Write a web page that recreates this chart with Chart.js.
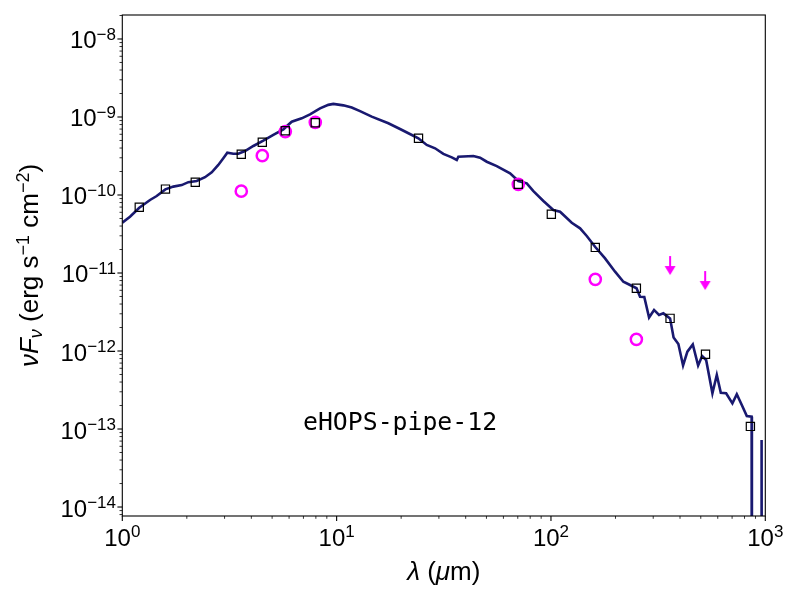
<!DOCTYPE html>
<html>
<head>
<meta charset="utf-8">
<script src="https://cdn.jsdelivr.net/npm/chart.js@4.4.0/dist/chart.umd.min.js"></script>
<style>
html,body{margin:0;padding:0;background:#fff;}
canvas{display:block;}
</style>
</head>
<body>
<canvas id="c" width="800" height="600"></canvas>
<script>
// ---- data (wavelength in micron, nuFnu in erg s^-1 cm^-2) ----
const modelLambda = [1.0,1.086,1.20,1.347,1.447,1.588,1.730,1.893,2.032,2.224,
  2.432,2.614,2.805,2.960,3.090,3.296,3.477,3.738,4.087,4.549,
  5.066,5.641,6.172,6.873,7.513,8.367,9.148,9.652,10.75,11.76,
  12.86,14.58,17.43,19.76,22.80,24.06,26.33,28.79,31.47,34.45,
  36.35,36.98,43.45,46.69,50.17,55.86,64.44,70.45,77.1,82.8,
  92.2,102.6,110.3,125.0,136.7,146.9,160.6,178.8,199.1,217.7,
  233.9,250.8,260.4,272.5,286.9,302.7,319.4,334.5,359.5,373.3,
  393.0,413.4,433.0,458.9,485.9,507.3,529.6,566.6,593.9,620.0,
  656.4,702.3,736.3,776.9,819.9,863.4,866,956,961,966];
const modelFlux = [4.41e-11,5.27e-11,6.87e-11,8.63e-11,9.70e-11,1.18e-10,1.28e-10,1.34e-10,1.46e-10,1.51e-10,
  1.69e-10,1.95e-10,2.43e-10,2.96e-10,3.49e-10,3.38e-10,3.38e-10,3.66e-10,4.25e-10,4.97e-10,
  5.88e-10,6.95e-10,8.71e-10,9.62e-10,1.08e-9,1.29e-9,1.43e-9,1.47e-9,1.41e-9,1.32e-9,
  1.19e-9,1.01e-9,8.30e-10,7.02e-10,5.75e-10,5.33e-10,4.38e-10,3.97e-10,3.36e-10,3.04e-10,
  2.81e-10,3.10e-10,3.16e-10,3.01e-10,2.67e-10,2.35e-10,1.90e-10,1.51e-10,1.41e-10,1.12e-10,
  8.38e-11,6.43e-11,6.11e-11,4.41e-11,3.74e-11,2.98e-11,2.17e-11,1.54e-11,1.04e-11,7.73e-12,
  7.01e-12,6.37e-12,4.97e-12,4.92e-12,2.69e-12,3.36e-12,2.90e-12,3.04e-12,2.62e-12,1.49e-12,
  1.23e-12,6.52e-13,9.80e-13,1.21e-12,6.52e-13,8.63e-13,7.67e-13,2.87e-13,4.92e-13,2.92e-13,
  2.87e-13,2.13e-13,2.79e-13,2.03e-13,1.47e-13,1.44e-13,1e-20,1e-20,7.23e-14,1e-20];

const photLambda = [1.20,1.59,2.19,3.59,4.50,5.76,7.95,24.1,70.4,100.4,161,250.3,359.5,526,852];
const photFlux   = [6.95e-11,1.19e-10,1.46e-10,3.33e-10,4.74e-10,6.67e-10,8.45e-10,5.33e-10,1.37e-10,5.66e-11,2.13e-11,6.37e-12,2.62e-12,9.08e-13,1.08e-13];

const obsLambda = [3.59,4.50,5.76,7.95,70.4,161,250.3];
const obsFlux   = [1.12e-10,3.19e-10,6.5e-10,8.55e-10,1.37e-10,8.3e-12,1.41e-12];

const limLambda = [359.5,524];
const limFlux   = [1.65e-11,1.06e-11];

const xTickExps = [0,1,2,3];
const yTickExps = [-14,-13,-12,-11,-10,-9,-8];
const xMin = 1, xMax = 1000, yMin = 7.67e-15, yMax = 2.03e-8;
const labelText = 'eHOPS-pipe-12';

// ---- helpers ----
const pts = (xs, ys) => xs.map((x, i) => ({x: x, y: ys[i]}));
const SANS = '"Liberation Sans", Arial, sans-serif';

function arrowImage() {
  const c = document.createElement('canvas');
  c.width = 24; c.height = 44;
  const g = c.getContext('2d');
  g.strokeStyle = '#ff00ff'; g.fillStyle = '#ff00ff'; g.lineWidth = 2;
  g.beginPath(); g.moveTo(12, 22); g.lineTo(12, 34); g.stroke();
  g.beginPath(); g.moveTo(6.5, 32); g.lineTo(17.5, 32); g.lineTo(12, 41); g.closePath(); g.fill();
  return c;
}

function drawPow(ctx, exp, x, y, mode) {
  const base = '10';
  const ex = exp < 0 ? '\u2212' + Math.abs(exp) : String(exp);
  const fb = '24px ' + SANS, fe = '17px ' + SANS;
  ctx.font = fb;
  const wb = ctx.measureText(base).width;
  ctx.font = fe;
  const we = ctx.measureText(ex).width;
  let sx, by, ey;
  if (mode === 'y') {
    sx = 116 - (wb + we); by = y + 9.5; ey = y + 1;
  } else {
    sx = x - (wb + we) / 2; by = 545.5; ey = 536.5;
  }
  ctx.textAlign = 'left'; ctx.textBaseline = 'alphabetic';
  ctx.font = fb;
  ctx.fillText(base, sx, by);
  ctx.font = fe;
  ctx.fillText(ex, sx + wb, ey);
}

function drawSegments(ctx, segs, cx, baseY) {
  let total = 0;
  segs.forEach(s => { ctx.font = s.f; s.w = ctx.measureText(s.t).width; total += s.w; });
  let x = cx - total / 2;
  ctx.textAlign = 'left'; ctx.textBaseline = 'alphabetic';
  segs.forEach(s => { ctx.font = s.f; ctx.fillText(s.t, x, baseY + (s.dy || 0)); x += s.w; });
}

const decor = {
  id: 'decor',
  afterDraw(chart) {
    const ctx = chart.ctx, a = chart.chartArea, xs = chart.scales.x, ys = chart.scales.y;
    ctx.save();
    ctx.fillStyle = '#000'; ctx.strokeStyle = '#000';
    ctx.lineWidth = 1.1;
    ctx.strokeRect(a.left, a.top, a.right - a.left, a.bottom - a.top);
    const majL = 4.9, minL = 2.8;
    xTickExps.forEach(e => {
      const v = Math.pow(10, e);
      const px = xs.getPixelForValue(v);
      ctx.lineWidth = 1.1;
      ctx.beginPath(); ctx.moveTo(px, a.bottom); ctx.lineTo(px, a.bottom + majL); ctx.stroke();
      drawPow(ctx, e, px, 0, 'x');
      if (e < xTickExps[xTickExps.length - 1]) {
        ctx.lineWidth = 0.8;
        for (let k = 2; k <= 9; k++) {
          const q = xs.getPixelForValue(k * v);
          ctx.beginPath(); ctx.moveTo(q, a.bottom); ctx.lineTo(q, a.bottom + minL); ctx.stroke();
        }
      }
    });
    const yExpsAll = [yTickExps[0] - 1].concat(yTickExps);
    yExpsAll.forEach(e => {
      const v = Math.pow(10, e);
      if (v >= yMin && v <= yMax) {
        const py = ys.getPixelForValue(v);
        ctx.lineWidth = 1.1;
        ctx.beginPath(); ctx.moveTo(a.left, py); ctx.lineTo(a.left - majL, py); ctx.stroke();
        drawPow(ctx, e, 0, py, 'y');
      }
      ctx.lineWidth = 0.8;
      for (let k = 2; k <= 9; k++) {
        const w = k * v;
        if (w < yMin || w > yMax) continue;
        const q = ys.getPixelForValue(w);
        ctx.beginPath(); ctx.moveTo(a.left, q); ctx.lineTo(a.left - minL, q); ctx.stroke();
      }
    });
    // x title
    drawSegments(ctx, [
      {t: '\u03bb', f: 'italic 26px ' + SANS},
      {t: ' (', f: '26px ' + SANS},
      {t: '\u03bc', f: 'italic 26px ' + SANS},
      {t: 'm)', f: '26px ' + SANS}
    ], (a.left + a.right) / 2, 580);
    // y title
    ctx.save();
    ctx.translate(38, (a.top + a.bottom) / 2);
    ctx.rotate(-Math.PI / 2);
    drawSegments(ctx, [
      {t: '\u03bd', f: 'italic 26px ' + SANS},
      {t: 'F', f: 'italic 26px ' + SANS},
      {t: '\u03bd', f: 'italic 18px ' + SANS, dy: 4},
      {t: ' (erg s', f: '26px ' + SANS},
      {t: '\u22121', f: '18px ' + SANS, dy: -9.5},
      {t: ' cm', f: '26px ' + SANS},
      {t: '\u22122', f: '18px ' + SANS, dy: -9.5},
      {t: ')', f: '26px ' + SANS}
    ], 0, 0);
    ctx.restore();
    // source name
    ctx.font = '24.8px "DejaVu Sans Mono", monospace';
    ctx.textAlign = 'left'; ctx.textBaseline = 'alphabetic';
    ctx.fillText(labelText, 303, 430);
    ctx.restore();
  }
};

new Chart(document.getElementById('c'), {
  type: 'scatter',
  data: {
    datasets: [
      {
        label: 'model', data: pts(modelLambda, modelFlux), showLine: true,
        borderColor: '#191970', borderWidth: 2.6, pointRadius: 0, tension: 0, order: 4
      },
      {
        label: 'observed', data: pts(obsLambda, obsFlux), showLine: false,
        pointStyle: 'circle', pointRadius: 5.6, borderWidth: 2.5,
        borderColor: '#ff00ff', backgroundColor: 'rgba(0,0,0,0)', order: 3
      },
      {
        label: 'model photometry', data: pts(photLambda, photFlux), showLine: false,
        pointStyle: 'rect', pointRadius: 5.8, borderWidth: 1.2,
        borderColor: '#000000', backgroundColor: 'rgba(0,0,0,0)', order: 2
      },
      {
        label: 'upper limits', data: pts(limLambda, limFlux), showLine: false,
        pointStyle: arrowImage(), pointRadius: 5, order: 1
      }
    ]
  },
  options: {
    responsive: false,
    animation: false,
    devicePixelRatio: 1,
    layout: { padding: { left: 122.3, right: 34.7, top: 15, bottom: 84 } },
    plugins: { legend: { display: false }, tooltip: { enabled: false } },
    scales: {
      x: { type: 'logarithmic', min: xMin, max: xMax, display: false },
      y: { type: 'logarithmic', min: yMin, max: yMax, display: false }
    }
  },
  plugins: [decor]
});
</script>
</body>
</html>
